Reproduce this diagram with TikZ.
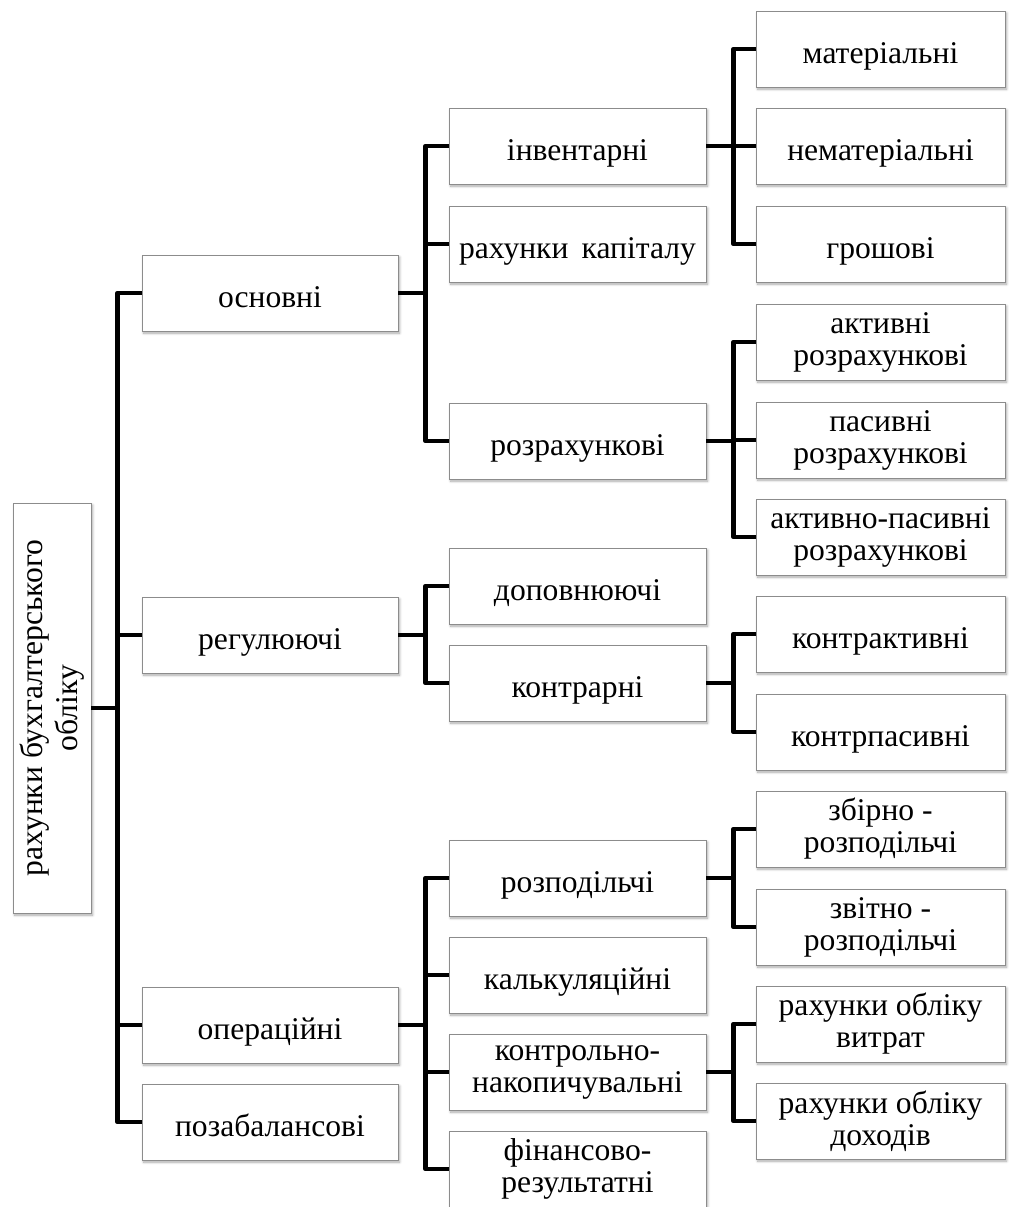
\documentclass[tikz,border=0pt]{standalone}
\usepackage{fontspec}
\setmainfont{Liberation Serif}
\usetikzlibrary{shadows.blur}
\begin{document}
\begin{tikzpicture}[x=0.75pt,y=-0.75pt,
  box/.style={draw=black!45, line width=0.6pt, fill=white, align=center,
    inner sep=1pt, minimum height=57pt,
    font=\fontsize{23.7}{24}\selectfont,
    blur shadow={shadow blur steps=6, shadow xshift=1.2pt, shadow yshift=-1.6pt, shadow opacity=35, shadow blur extra rounding=0pt}},
  one/.style={text height=21pt, text depth=0pt},
  two/.style={},
  lone/.style={box, minimum width=192pt},
  ltwo/.style={box, minimum width=192.75pt},
  lthree/.style={box, minimum width=186.75pt},
  conn/.style={line width=3.4pt, line join=round, line cap=butt}]
\useasboundingbox (0,0) rectangle (1008,1207);
% root
\node[box, rotate=90, minimum width=307.5pt, minimum height=58.5pt, font=\fontsize{23.7}{26}\selectfont] (root) at (52,708) {рахунки бухгалтерського\\обліку};
% level 1
\node[lone, one] (osn) at (270,293) {основні};
\node[lone, one] (reg) at (270,635) {регулюючі};
\node[lone, one] (op) at (270,1025) {операційні};
\node[lone, one] (poz) at (270,1122) {позабалансові};
% level 2
\node[ltwo, one] (inv) at (577.5,146) {інвентарні};
\node[ltwo, one] (kap) at (577.5,244) {рахунки\, капіталу};
\node[ltwo, one] (roz) at (577.5,441) {розрахункові};
\node[ltwo, one] (dop) at (577.5,586) {доповнюючі};
\node[ltwo, one] (kon) at (577.5,683) {контрарні};
\node[ltwo, one] (rzp) at (577.5,878) {розподільчі};
\node[ltwo, one] (kal) at (577.5,975) {калькуляційні};
\node[ltwo, two] (kn) at (577.5,1072) {контрольно-\\накопичувальні};
\node[ltwo, two] (fin) at (577.5,1169) {фінансово-\\результатні};
% level 3
\node[lthree, one] (mat) at (880.5,49) {матеріальні};
\node[lthree, one] (nem) at (880.5,146) {нематеріальні};
\node[lthree, one] (gro) at (880.5,244) {грошові};
\node[lthree, two] (akt) at (880.5,342) {активні\\розрахункові};
\node[lthree, two] (pas) at (880.5,440) {пасивні\\розрахункові};
\node[lthree, two] (ap) at (880.5,537) {активно-пасивні\\розрахункові};
\node[lthree, one] (ka) at (880.5,634) {контрактивні};
\node[lthree, one] (kp) at (880.5,732) {контрпасивні};
\node[lthree, two] (zb) at (880.5,829) {збірно -\\розподільчі};
\node[lthree, two] (zv) at (880.5,927) {звітно -\\розподільчі};
\node[lthree, two] (vyt) at (880.5,1024) {рахунки обліку\\витрат};
\node[lthree, two] (doh) at (880.5,1121) {рахунки обліку\\доходів};
% connectors
\draw[conn] (root.south) -- ++(26,0) coordinate (t0);
\draw[conn] (t0) |- (osn.west);
\draw[conn] (t0) |- (reg.west);
\draw[conn] (t0) |- (op.west);
\draw[conn] (t0) |- (poz.west);
\draw[conn] (osn.east) -- ++(27,0) coordinate (b1);
\draw[conn] (b1) |- (inv.west);
\draw[conn] (b1) |- (kap.west);
\draw[conn] (b1) |- (roz.west);
\draw[conn] (inv.east) -- ++(27,0) coordinate (b2);
\draw[conn] (b2) |- (mat.west);
\draw[conn] (b2) |- (nem.west);
\draw[conn] (b2) |- (gro.west);
\draw[conn] (roz.east) -- ++(27,0) coordinate (b3);
\draw[conn] (b3) |- (akt.west);
\draw[conn] (b3) |- (pas.west);
\draw[conn] (b3) |- (ap.west);
\draw[conn] (reg.east) -- ++(27,0) coordinate (b4);
\draw[conn] (b4) |- (dop.west);
\draw[conn] (b4) |- (kon.west);
\draw[conn] (kon.east) -- ++(27,0) coordinate (b5);
\draw[conn] (b5) |- (ka.west);
\draw[conn] (b5) |- (kp.west);
\draw[conn] (op.east) -- ++(27,0) coordinate (b6);
\draw[conn] (b6) |- (rzp.west);
\draw[conn] (b6) |- (kal.west);
\draw[conn] (b6) |- (kn.west);
\draw[conn] (b6) |- (fin.west);
\draw[conn] (rzp.east) -- ++(27,0) coordinate (b7);
\draw[conn] (b7) |- (zb.west);
\draw[conn] (b7) |- (zv.west);
\draw[conn] (kn.east) -- ++(27,0) coordinate (b8);
\draw[conn] (b8) |- (vyt.west);
\draw[conn] (b8) |- (doh.west);
\end{tikzpicture}
\end{document}
